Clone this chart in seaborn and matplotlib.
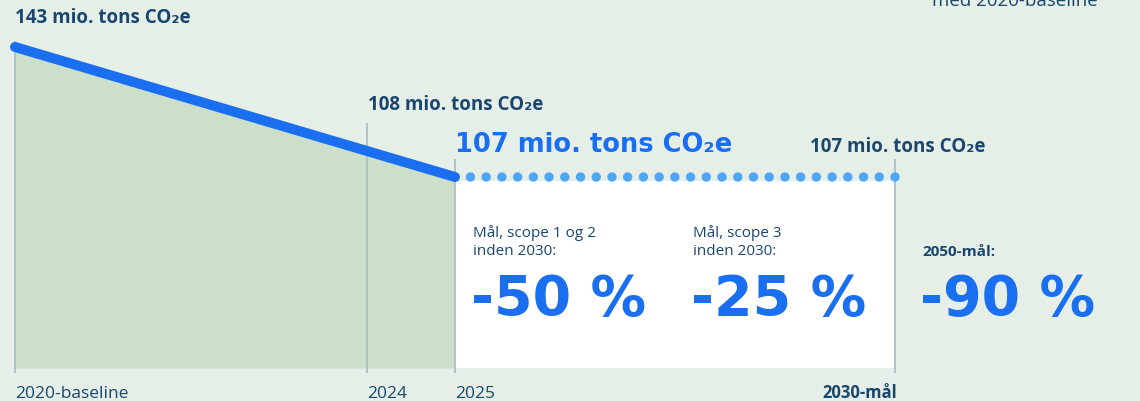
import numpy as np
import pandas as pd
import matplotlib
matplotlib.use("Agg")
import matplotlib.pyplot as plt
import seaborn as sns

# ---------------- data ----------------
line_years = [2020, 2025]
line_values = [143, 107]
target_years = [2025, 2030]
target_values = [107, 107]
tick_years = [2020, 2024, 2025, 2030]
tick_labels = ["2020-baseline", "2024", "2025", "2030-mål"]
value_labels = ["143 mio. tons CO₂e", "108 mio. tons CO₂e",
                "107 mio. tons CO₂e", "107 mio. tons CO₂e"]
goal_titles = ["Mål, scope 1 og 2\ninden 2030:", "Mål, scope 3\ninden 2030:", "2050-mål:"]
goal_values = ["-50 %", "-25 %", "-90 %"]
note_text = "med 2020-baseline"

# ---------------- style ----------------
BG = "#e6efe7"
FILL = "#cbdfcb"
BLUE = "#1a6ef0"
DOT = "#4ea6f7"
NAVY = "#18466f"
GREY = "#a9bfc7"

sns.set_theme(style="white")
plt.rcParams["font.family"] = ["Open Sans", "DejaVu Sans"]

W, H = 1140, 402
fig = plt.figure(figsize=(W / 100, H / 100), dpi=100, facecolor=BG)
ax = fig.add_axes([0, 0, 1, 1])
ax.set_facecolor(BG)

# pixel mapping of the design
px_per_year = 88.0
x0_px = 15.0
ypx_top_val = 48.0      # pixel row of 143
ypx_low_val = 178.0     # pixel row of 107
px_per_unit = (ypx_low_val - ypx_top_val) / (line_values[0] - line_values[1])
XLIM = (line_years[0] - x0_px / px_per_year, line_years[0] + (W - x0_px) / px_per_year)
YLIM = (line_values[1] - (H - ypx_low_val) / px_per_unit,
        line_values[0] + ypx_top_val / px_per_unit)

def yv(py):
    return line_values[1] - (py - ypx_low_val) / px_per_unit

base = yv(369)

# fills
ax.fill_between(line_years, line_values, base, color=FILL, lw=0, zorder=1)
ax.fill_between(target_years, [yv(182)] * 2, base, color="white", lw=0, zorder=1)

# grey vertical guides
tops = [yv(42), yv(124), yv(160), yv(160)]
ax.vlines(tick_years, yv(374), tops, color=GREY, lw=1.3, zorder=2)

# dotted target line (drawn from 2030 back to 2025 so the end dot sits on 2030)
lw_px = 9.5
spacing_px = (target_years[1] - target_years[0]) * px_per_year / 28
ax.plot(target_years[::-1], target_values[::-1], color=DOT, lw=lw_px * 0.72,
        linestyle=(0, (0.001, spacing_px / lw_px)), dash_capstyle="round",
        zorder=3)

# main emissions line
df = pd.DataFrame({"year": line_years, "value": line_values})
sns.lineplot(data=df, x="year", y="value", ax=ax, color=BLUE, lw=10 * 0.72,
             solid_capstyle="round", zorder=4)
ax.set_xlim(*XLIM)
ax.set_ylim(*YLIM)
ax.set_axis_off()

def T(xp, yp, s, **kw):
    ax.text(xp / W, 1 - yp / H, s, transform=ax.transAxes, **kw)

HUM = ["Open Sans", "DejaVu Sans"]
WIDE = ["DejaVu Sans"]

# value labels
T(15, 23, value_labels[0], fontsize=13.5, fontweight="bold", color=NAVY, family=HUM, va="baseline")
T(368, 110, value_labels[1], fontsize=13.5, fontweight="bold", color=NAVY, family=HUM, va="baseline")
T(455, 152, value_labels[2], fontsize=18.5, fontweight="bold", color=BLUE, family=WIDE, va="baseline")
T(810, 152, value_labels[3], fontsize=13.5, fontweight="bold", color=NAVY, family=HUM, va="baseline")

# goals
T(473, 255, goal_titles[0], fontsize=11, color=NAVY, family=HUM, va="baseline", linespacing=1.25)
T(693, 255, goal_titles[1], fontsize=11, color=NAVY, family=HUM, va="baseline", linespacing=1.25)
T(922, 256, goal_titles[2], fontsize=11, fontweight="bold", color=NAVY, family=HUM, va="baseline")
T(471, 315, goal_values[0], fontsize=40, fontweight="bold", color=BLUE, family=WIDE, va="baseline")
T(691, 315, goal_values[1], fontsize=40, fontweight="bold", color=BLUE, family=WIDE, va="baseline")
T(920, 315, goal_values[2], fontsize=40, fontweight="bold", color=BLUE, family=WIDE, va="baseline")

# top-right note (cropped in original)
T(932, 6, note_text, fontsize=13.5, color=NAVY, family=HUM, va="baseline")

# x labels
for yr, lab in zip(tick_years, tick_labels):
    xp = x0_px + (yr - line_years[0]) * px_per_year
    if lab.endswith("mål"):
        T(xp + 2, 398, lab, fontsize=12, fontweight="bold", color=NAVY, family=HUM,
          va="baseline", ha="right")
    else:
        T(xp, 398, lab, fontsize=12.5, color=NAVY, family=HUM, va="baseline")

fig.savefig("out.png", dpi=100, facecolor=BG)
